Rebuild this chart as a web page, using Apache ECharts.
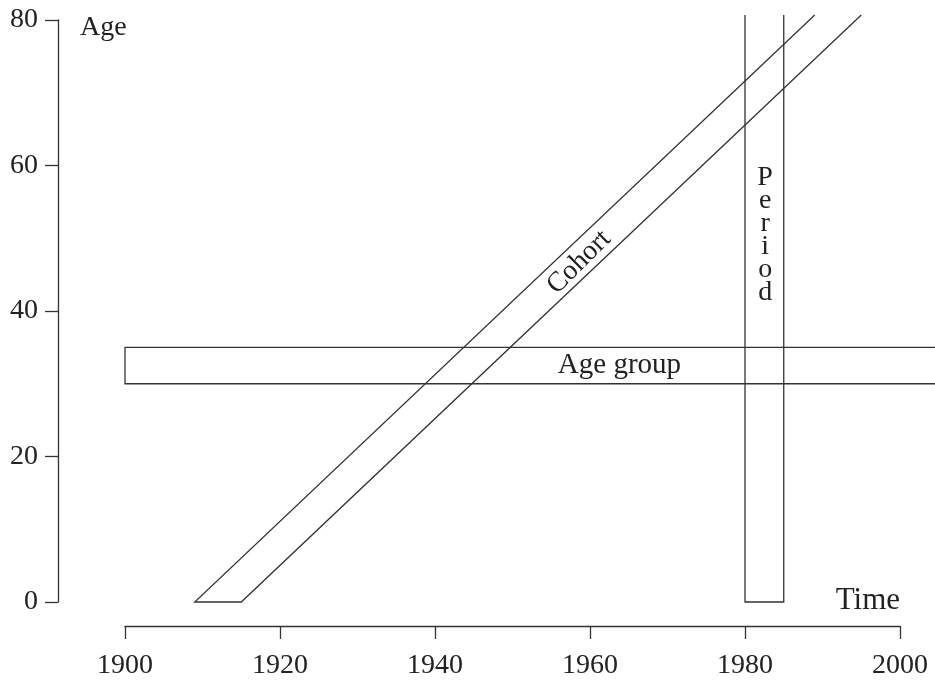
<!DOCTYPE html>
<html>
<head>
<meta charset="utf-8">
<script src="https://cdn.jsdelivr.net/npm/echarts@6/dist/echarts.min.js"></script>
<style>
  html, body { margin: 0; padding: 0; background: #fff; }
  #chart { width: 935px; height: 680px; }
</style>
</head>
<body>
<div id="chart"></div>
<script>
// Lexis diagram: band outlines as [year, age] points
const cohortLine = [[1989, 80.7], [1909, 0], [1915, 0], [1995, 80.7]];
const periodLine = [[1980, 80.7], [1980, 0], [1985, 0], [1985, 80.7]];
const ageGroupLine = [[2010, 35], [1900, 35], [1900, 30], [2010, 30]];
const xTicks = [1900, 1920, 1940, 1960, 1980, 2000];
const yTicks = [0, 20, 40, 60, 80];
// [year, age, text, rotation in degrees, font size]
const bandLabels = [
    [1958.6, 46.7, 'Cohort', 45, 28],
    [1982.6, 50.4, 'P\ne\nr\ni\no\nd', 0, 28],
    [1963.8, 32.5, 'Age group', 0, 29]
];

const font = 'Liberation Serif';
const ink = '#222';
const stroke = '#333';

const chart = echarts.init(document.getElementById('chart'));

function band (name, pts) {
    return {
        name: name,
        type: 'custom',
        coordinateSystem: 'cartesian2d',
        silent: true,
        clip: false,
        data: [0],
        renderItem: (params, api) => ({
            type: 'polyline',
            shape: {points: pts.map(p => api.coord(p))},
            style: {stroke: stroke, lineWidth: 1.3, fill: null}
        })
    };
}

chart.setOption({
    backgroundColor: '#fff',
    animation: false,
    grid: {left: 125, right: 35, top: 20, bottom: 77},
    xAxis: {
        type: 'value',
        min: xTicks[0],
        max: xTicks[xTicks.length - 1],
        interval: 20,
        offset: 24,
        axisLine: {show: true, onZero: false, lineStyle: {color: stroke, width: 1.3}},
        axisTick: {show: true, length: 13, lineStyle: {color: stroke, width: 1.3}},
        splitLine: {show: false},
        axisLabel: {fontFamily: font, fontSize: 28, color: ink, margin: 26, formatter: v => String(v)}
    },
    yAxis: {
        type: 'value',
        min: yTicks[0],
        max: yTicks[yTicks.length - 1],
        interval: 20,
        offset: 67,
        axisLine: {show: true, onZero: false, lineStyle: {color: stroke, width: 1.3}},
        axisTick: {show: true, length: 13, lineStyle: {color: stroke, width: 1.3}},
        splitLine: {show: false},
        axisLabel: {fontFamily: font, fontSize: 28, color: ink, margin: 20}
    },
    graphic: [
        {type: 'text', left: 80, top: 14, style: {text: 'Age', font: '28px "Liberation Serif"', fill: ink}},
        {type: 'text', right: 35, top: 585, style: {text: 'Time', font: '31px "Liberation Serif"', fill: ink}}
    ],
    series: [
        band('Cohort', cohortLine),
        band('Period', periodLine),
        band('Age group', ageGroupLine),
        {
            type: 'custom',
            coordinateSystem: 'cartesian2d',
            silent: true,
            clip: false,
            data: bandLabels.map(d => [d[0], d[1]]),
            renderItem: (params, api) => {
                const d = bandLabels[params.dataIndex];
                const pt = api.coord([d[0], d[1]]);
                return {
                    type: 'text',
                    x: pt[0],
                    y: pt[1],
                    rotation: d[3] * Math.PI / 180,
                    style: {
                        text: d[2],
                        font: d[4] + 'px "Liberation Serif"',
                        fill: ink,
                        lineHeight: 23,
                        align: 'center',
                        verticalAlign: 'middle'
                    }
                };
            }
        }
    ]
});
</script>
</body>
</html>
